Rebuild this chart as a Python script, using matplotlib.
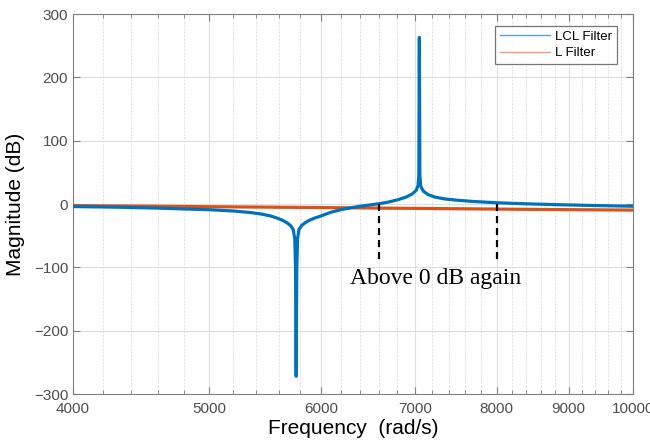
# Bode magnitude: LCL filter vs L filter

import numpy as np
import matplotlib.pyplot as plt
from matplotlib.ticker import FixedLocator, NullFormatter, FixedFormatter
from matplotlib.lines import Line2D

# LCL filter magnitude
lcl_freq = [4000, 4300, 4600, 5000, 5200, 5350, 5450, 5530, 5590, 5640, 5680,
            5710, 5735, 5750, 5757, 5763, 5769, 5776, 5790, 5815, 5845, 5885,
            5935, 6000, 6100, 6200, 6300, 6400, 6500, 6600, 6700, 6800, 6900,
            6970, 7015, 7035, 7044, 7050, 7056, 7065, 7080, 7100, 7150, 7230,
            7350, 7500, 7700, 8000, 8400, 8900, 9400, 10000]
lcl_mag = [-4, -5, -6.5, -9, -11, -13.5, -16, -19, -22.5, -26, -30,
           -34, -40, -55, -100, -272, -100, -55, -40, -34, -30, -26,
           -22.5, -19, -13, -9, -6, -3.5, -1.5, 0.5, 3, 6.5, 11,
           16, 22, 29, 45, 263, 45, 29, 24, 20, 15, 11,
           8, 6, 4, 2, 0.3, -1.2, -2.4, -3.5]

# L filter magnitude
l_freq = [4000, 5000, 6000, 7000, 8000, 9000, 10000]
l_mag = [-2.5, -4.2, -5.6, -6.9, -8.0, -8.9, -9.6]

# annotation markers (where LCL goes back above 0 dB)
mark_freq = [6600, 8000]

major_ticks = [4000, 5000, 6000, 7000, 8000, 9000, 10000]
minor_ticks = [f for f in range(4000, 10001, 200) if f not in major_ticks]

blue = '#0072BD'
orange = '#D95319'
tick_col = '#4d4d4d'

plt.rcParams['font.family'] = ['Liberation Sans', 'DejaVu Sans']

fig = plt.figure(figsize=(6.5, 4.48), dpi=100)
ax = fig.add_axes([0.1123, 0.1205, 0.8615, 0.8482])

ax.plot(l_freq, l_mag, color=orange, lw=2.3, solid_joinstyle='round', zorder=3)
ax.plot(lcl_freq, lcl_mag, color=blue, lw=2.3, solid_joinstyle='round', zorder=4)

# dashed markers + label
for f in mark_freq:
    ax.plot([f, f], [0, -90], color='black', lw=1.6, ls=(0, (3.2, 2.2)), zorder=5)
ax.text(6290, -117, 'Above 0 dB again', family=['Liberation Serif', 'DejaVu Serif'],
        fontsize=17, ha='left', va='center', color='black')

ax.set_xscale('log')
ax.set_xlim(4000, 10000)
ax.set_ylim(-300, 300)
ax.xaxis.set_major_locator(FixedLocator(major_ticks))
ax.xaxis.set_major_formatter(FixedFormatter([str(t) for t in major_ticks]))
ax.xaxis.set_minor_locator(FixedLocator(minor_ticks))
ax.xaxis.set_minor_formatter(NullFormatter())
ax.set_yticks([-300, -200, -100, 0, 100, 200, 300])

# MATLAB-like grid
ax.grid(True, which='major', color='#dedede', lw=0.8, ls='-')
ax.grid(True, which='minor', axis='x', color='#e0e0e0', lw=0.7, ls=(0, (2, 1.5)))
ax.set_axisbelow(True)

ax.tick_params(which='both', direction='in', top=True, right=True,
               colors='#808080', labelcolor=tick_col, labelsize=11)
ax.tick_params(which='major', length=5, width=0.8)
ax.tick_params(which='minor', length=3, width=0.6)
ax.tick_params(axis='x', pad=6)
for s in ax.spines.values():
    s.set_color('#808080')
    s.set_linewidth(0.8)

ax.set_xlabel('Frequency  (rad/s)', fontsize=15, color='black', labelpad=2)
ax.set_ylabel('Magnitude (dB)', fontsize=15, color='black', labelpad=6)

handles = [Line2D([], [], color='#5a9fd6', lw=1.0),
           Line2D([], [], color='#ec9a7a', lw=1.0)]
leg = ax.legend(handles, ['LCL Filter', 'L Filter'], loc='upper right',
                bbox_to_anchor=(0.971, 0.968), fontsize=9.5, frameon=True,
                fancybox=False, edgecolor='#555555', handlelength=3.8,
                handletextpad=0.4, borderpad=0.35, labelspacing=0.3,
                borderaxespad=0)
leg.get_frame().set_linewidth(0.9)

fig.savefig('out.png', dpi=100)
